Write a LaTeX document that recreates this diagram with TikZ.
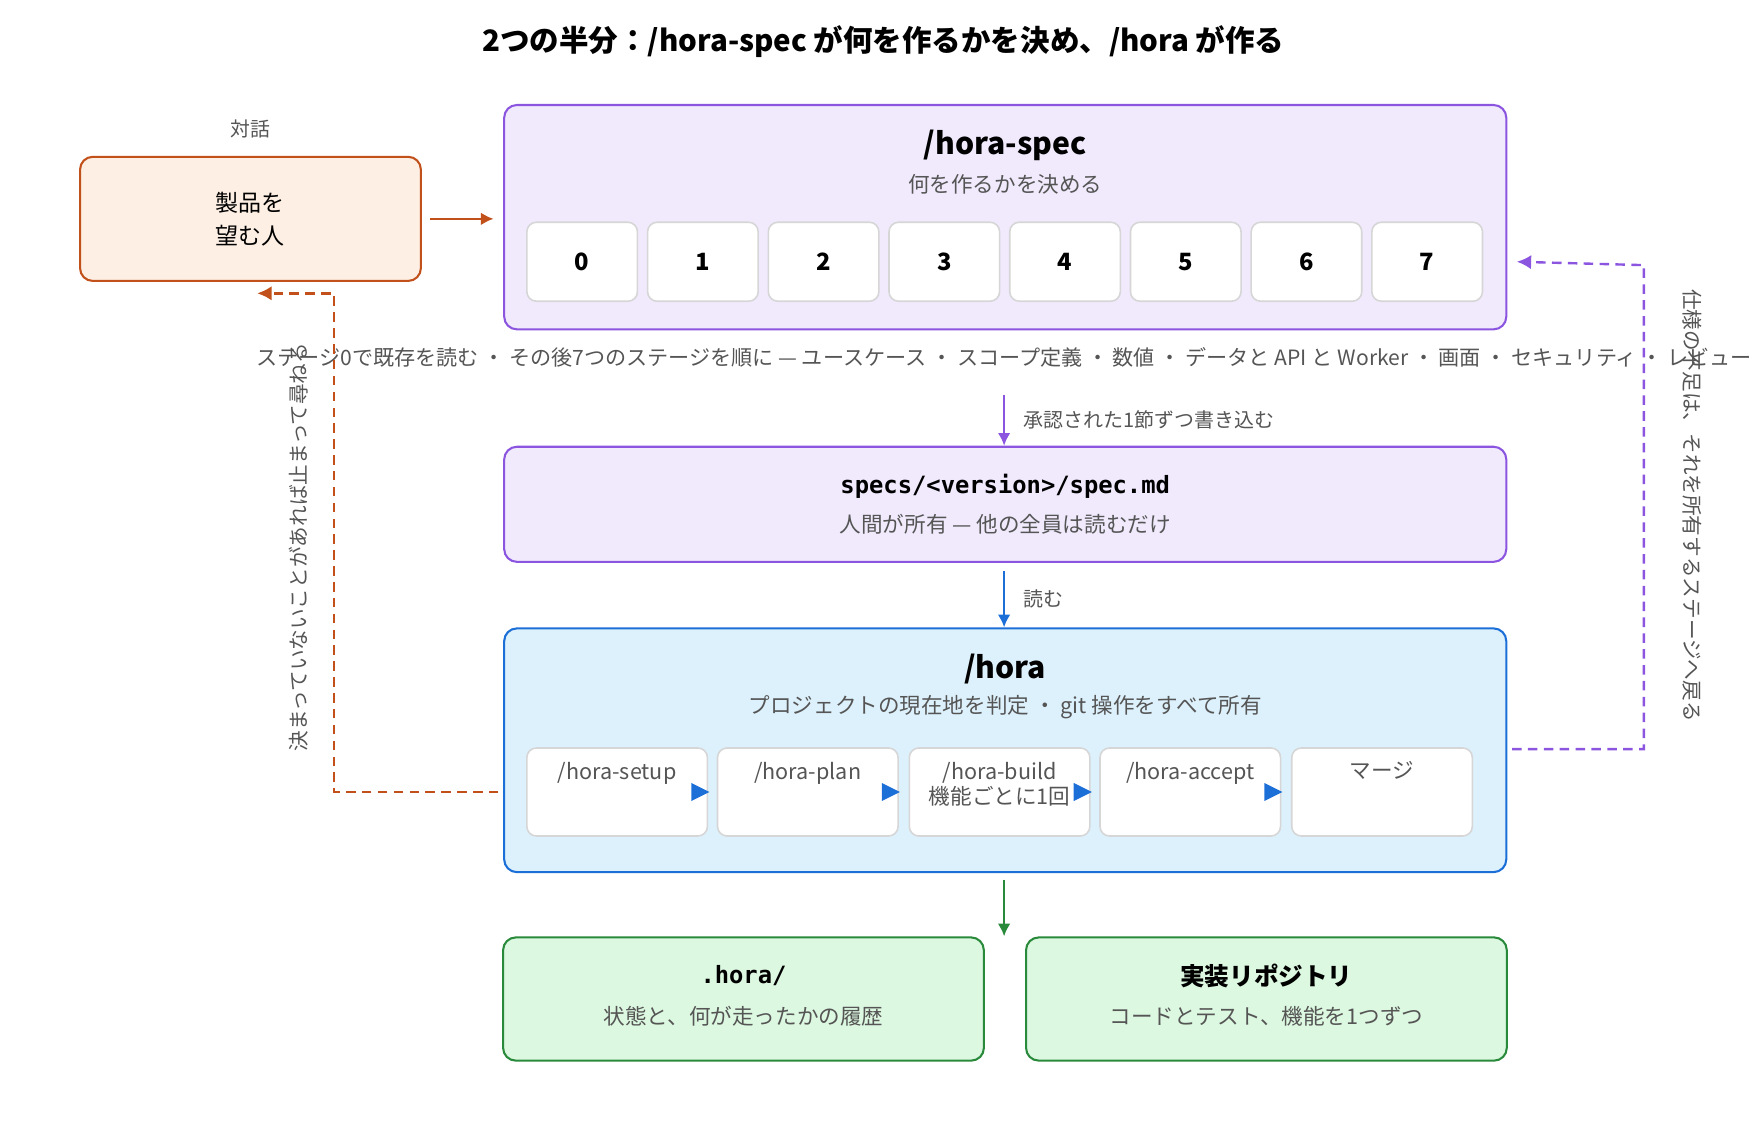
\documentclass[tikz,border=0pt]{standalone}
\usepackage{fontspec}
\setmainfont{Noto Sans CJK JP}
\newfontfamily\monofont{DejaVu Sans Mono}
\usetikzlibrary{arrows.meta}
\definecolor{orln}{HTML}{C2501A}\definecolor{orbg}{HTML}{FDEFE3}
\definecolor{puln}{HTML}{8B55E0}\definecolor{pubg}{HTML}{F1EAFD}
\definecolor{blln}{HTML}{1D6FD8}\definecolor{blbg}{HTML}{DDF1FC}
\definecolor{grln}{HTML}{2A8A3C}\definecolor{grbg}{HTML}{DCF8E0}
\definecolor{txt}{HTML}{555555}\definecolor{stln}{HTML}{D6D6D6}
\tikzset{
  panel/.style={draw=#1ln, fill=#1bg, line width=1.3pt, rounded corners=8pt, inner sep=0pt},
  stage/.style={draw=stln, fill=white, rounded corners=6pt, line width=1pt, minimum width=2.45cm, minimum height=1.75cm, font=\fontsize{15}{15}\selectfont\bfseries},
  stepbox/.style={draw=stln, fill=white, rounded corners=6pt, line width=1pt, minimum width=4cm, minimum height=1.95cm},
  sub/.style={text=txt, font=\fontsize{13.6}{13.6}\selectfont},
  head/.style={font=\fontsize{19}{19}\selectfont\bfseries},
  flow/.style={-{Latex[length=8pt,width=8pt]}, line width=1.5pt},
}
\begin{document}
\begin{tikzpicture}[x=0.025cm, y=-0.025cm]
  \useasboundingbox (0,0) rectangle (1560,1003);
  % ---- title ---------------------------------------
  \node[font=\fontsize{18.6}{18.6}\selectfont\bfseries] (title) at (783,37) {2つの半分：/hora-spec が何を作るかを決め、/hora が作る};

  % ---- person ---------------------------------------
  \node[sub, font=\fontsize{12.5}{12.5}\selectfont] (talk) at (222,114) {対話};
  \node[panel=or, minimum width=7.55cm, minimum height=2.75cm, align=center,
        font=\fontsize{14.5}{21}\selectfont] (person) at (222,194) {製品を\\望む人};

  % ---- /hora-spec --------------------------------------
  \node[panel=pu, minimum width=22.2cm, minimum height=4.97cm] (spec) at (891,192.5) {};
  \node[head] (spectitle) at (891,129) {/hora-spec};
  \node[sub] (specsub) at (891,163) {何を作るかを決める};
  \foreach \i in {0,...,7}
    \node[stage] (s\i) at (516+107*\i,232) {\i};
  \node[sub, font=\fontsize{13.3}{13.3}\selectfont] (stages) at (890,317)
    {ステージ0で既存を読む ・ その後7つのステージを順に — ユースケース ・ スコープ定義 ・ 数値 ・ データと API と Worker ・ 画面 ・ セキュリティ ・ レビュー};

  % ---- spec.md -------------------------------------------
  \node[panel=pu, minimum width=22.2cm, minimum height=2.55cm] (file) at (891,447) {};
  \node[font=\monofont\fontsize{15}{15}\selectfont\bfseries] (filetitle) at (891,431) {specs/<version>/spec.md};
  \node[sub] (filesub) at (891,465) {人間が所有 — 他の全員は読むだけ};

  % ---- /hora -----------------------------------------------
  \node[panel=bl, minimum width=22.2cm, minimum height=5.4cm] (hora) at (891,665) {};
  \node[head] (horatitle) at (891,593) {/hora};
  \node[sub] (horasub) at (891,627) {プロジェクトの現在地を判定 ・ git 操作をすべて所有};
  \foreach \n/\x in {setup/547, plan/716, build/886, accept/1055, merge/1225}
    \node[stepbox] (\n) at (\x,702) {};
  \foreach \n/\t in {setup/{/hora-setup}, plan/{/hora-plan}, build/{/hora-build\\機能ごとに1回}, accept/{/hora-accept}, merge/{マージ}}
    \node[sub, align=center, anchor=north, font=\fontsize{13.6}{16}\selectfont] at ([yshift=-0.2cm]\n.north) {\t};
  \foreach \a/\b in {setup/plan, plan/build, build/accept, accept/merge}
    \fill[blln] ([xshift=-5pt]\a.east) ++(-8,-8) -- ++(16,8) -- ++(-16,8) -- cycle;

  % ---- outputs ---------------------------------------
  \node[panel=gr, minimum width=10.65cm, minimum height=2.73cm] (state) at (659,885.5) {};
  \node[font=\monofont\fontsize{15}{15}\selectfont\bfseries] at (659,865) {.hora/};
  \node[sub] at (659,901) {状態と、何が走ったかの履歴};
  \node[panel=gr, minimum width=10.65cm, minimum height=2.73cm] (repo) at (1122.5,885.5) {};
  \node[font=\fontsize{15.5}{15.5}\selectfont\bfseries] at (1122.5,865) {実装リポジトリ};
  \node[sub] at (1122.5,901) {コードとテスト、機能を1つずつ};

  % ---- connectors -----------------------------------
  \draw[flow, orln] (person.east) ++(7,0) -- ([xshift=-6pt]spec.west |- person.east);
  \coordinate (wtop) at (890,350);
  \draw[flow, puln] (wtop) -- (file.north -| wtop) node[midway, right=8pt, sub, font=\fontsize{12.6}{12.6}\selectfont] {承認された1節ずつ書き込む};
  \draw[flow, blln] ([yshift=-5pt]file.south -| wtop) -- (hora.north -| wtop) node[midway, right=8pt, sub, font=\fontsize{12.6}{12.6}\selectfont] {読む};
  \draw[flow, grln] ([yshift=-4pt]hora.south -| wtop) -- (state.north -| wtop);

  % ---- loops back ---------------------------------------
  \coordinate (askL) at (296,702);
  \draw[-{Latex[length=9pt,width=9pt]}, orln, dashed, line width=1.5pt, dash pattern=on 6pt off 4pt]
    ([xshift=-3pt]hora.west |- askL) -- (askL) -- (296,260) -- (228,260);
  \node[sub, rotate=90, font=\fontsize{13}{13}\selectfont] (ask) at (265,485) {決まっていないことがあれば止まって尋ねる};
  \coordinate (backR) at (1457,664);
  \draw[-{Latex[length=9pt,width=9pt]}, puln, dashed, line width=1.5pt, dash pattern=on 6pt off 4pt]
    ([xshift=3pt]hora.east |- backR) -- (backR) -- (1457,235) -- ([xshift=6pt]spec.east |- s7);
  \node[sub, rotate=-90, font=\fontsize{13}{13}\selectfont] (back) at (1500,448) {仕様の不足は、それを所有するステージへ戻る};
\end{tikzpicture}
\end{document}
